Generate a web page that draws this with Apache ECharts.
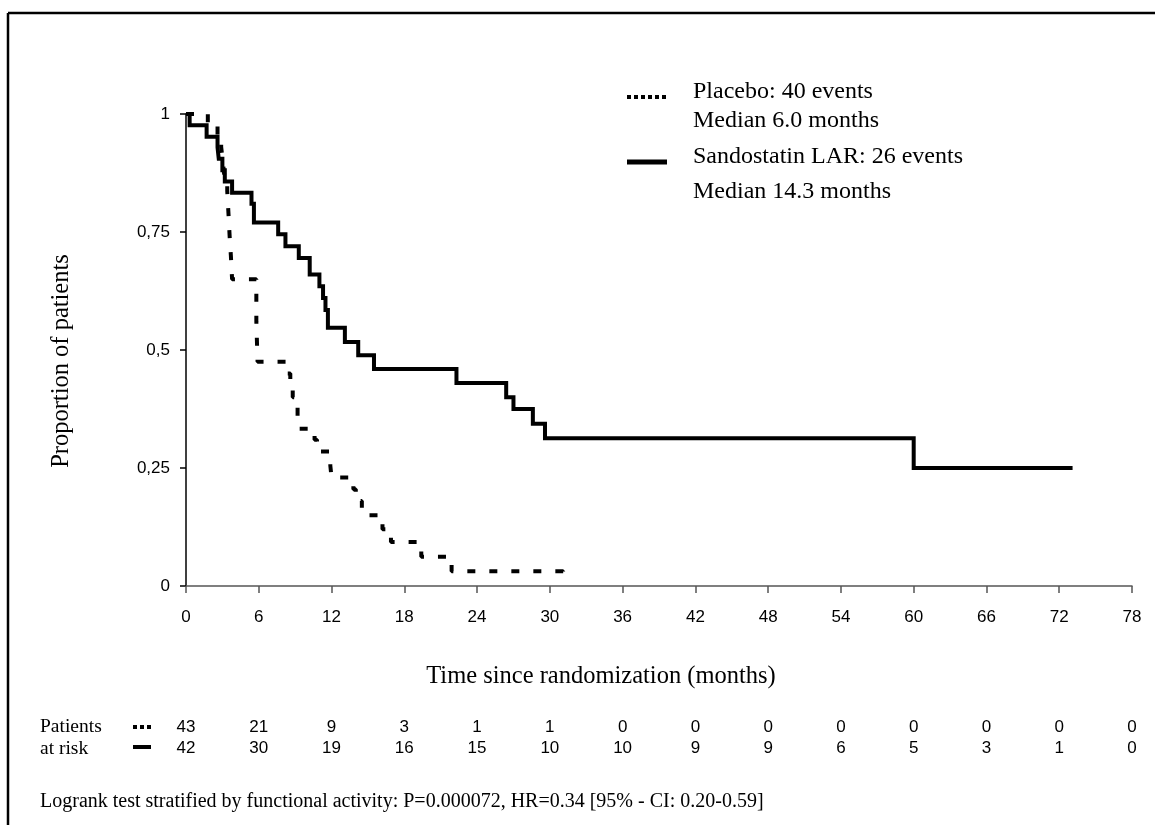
<!DOCTYPE html>
<html>
<head>
<meta charset="utf-8">
<script src="https://cdn.jsdelivr.net/npm/echarts@6/dist/echarts.min.js"></script>
<style>html,body{margin:0;padding:0;background:#fff;}#c{width:1155px;height:825px;}</style>
</head>
<body>
<div id="c"></div>
<script>
// ---- Data ----
const xTicks = [0, 6, 12, 18, 24, 30, 36, 42, 48, 54, 60, 66, 72, 78];
const yTicks = [0, 0.25, 0.5, 0.75, 1];
const yTickLabels = ['0', '0,25', '0,5', '0,75', '1'];

const placeboTime = [0, 1.8, 2.6, 2.9, 3.0, 3.1, 3.2, 3.4, 3.5, 3.6, 3.7, 3.8, 5.8, 5.9, 8.3, 8.6, 8.8, 9.0, 9.2, 9.3, 10.6, 10.8, 11.9, 12.0, 13.8, 14.0, 14.5, 14.6, 16.2, 16.9, 19.4, 21.9, 31.1];
const placeboSurv = [1, 0.977, 0.953, 0.93, 0.907, 0.884, 0.86, 0.837, 0.79, 0.74, 0.70, 0.65, 0.56, 0.475, 0.45, 0.43, 0.40, 0.38, 0.356, 0.333, 0.31, 0.285, 0.255, 0.23, 0.205, 0.18, 0.16, 0.15, 0.12, 0.093, 0.062, 0.031, 0.01];

const sandoTime = [0, 0.3, 1.7, 2.6, 2.7, 3.0, 3.2, 3.8, 5.4, 5.6, 7.6, 8.2, 9.3, 10.2, 11.0, 11.3, 11.5, 11.7, 13.1, 14.2, 15.5, 22.3, 26.4, 27.0, 28.6, 29.6, 60.0, 73.1];
const sandoSurv = [1, 0.976, 0.952, 0.929, 0.905, 0.881, 0.857, 0.833, 0.81, 0.77, 0.745, 0.72, 0.695, 0.66, 0.635, 0.61, 0.585, 0.547, 0.517, 0.489, 0.46, 0.43, 0.40, 0.375, 0.344, 0.313, 0.25, 0.25];

const riskPlacebo = [43, 21, 9, 3, 1, 1, 0, 0, 0, 0, 0, 0, 0, 0];
const riskSando = [42, 30, 19, 16, 15, 10, 10, 9, 9, 6, 5, 3, 1, 0];

const legendLines = [['Placebo: 40 events', 'Median 6.0 months'], ['Sandostatin LAR: 26 events', 'Median 14.3 months']];
const footnote = 'Logrank test stratified by functional activity: P=0.000072, HR=0.34 [95% - CI: 0.20-0.59]';

// ---- Chart ----
const serif = '"Liberation Serif", "Times New Roman", serif';
const sans = '"Liberation Sans", Arial, sans-serif';
const chart = echarts.init(document.getElementById('c'));

const pair = (t, s) => t.map((v, i) => [v, s[i]]);

chart.setOption({
  backgroundColor: '#fff',
  animation: false,
  grid: { left: 186, top: 114, right: 23, bottom: 239, containLabel: false },
  xAxis: [{
    type: 'value', min: 0, max: 78, interval: 6,
    name: 'Time since randomization (months)', nameLocation: 'middle', nameGap: 78,
    nameTextStyle: { fontFamily: serif, fontSize: 24.5, color: '#000', padding: [0, 116, 0, 0] },
    axisLine: { show: true, lineStyle: { color: '#555', width: 1.5 } },
    axisTick: { show: true, length: 7, lineStyle: { color: '#555', width: 1.5 } },
    axisLabel: { margin: 23, fontFamily: sans, fontSize: 17, color: '#000' },
    splitLine: { show: false }
  }, {
    type: 'value', min: 0, max: 78, interval: 6, position: 'bottom', gridIndex: 0,
    axisLine: { show: false }, axisTick: { show: false }, splitLine: { show: false },
    axisLabel: {
      margin: 131, fontFamily: sans, fontSize: 17, color: '#000', lineHeight: 21,
      formatter: v => { const i = xTicks.indexOf(v); return i < 0 ? '' : riskPlacebo[i] + '\n' + riskSando[i]; }
    }
  }],
  yAxis: {
    type: 'value', min: 0, max: 1, interval: 0.25,
    name: 'Proportion of patients', nameLocation: 'middle', nameGap: 112, nameRotate: 90,
    nameTextStyle: { fontFamily: serif, fontSize: 24.5, color: '#000', padding: [0, 22, 0, 0] },
    axisLine: { show: true, lineStyle: { color: '#000', width: 1.5 } },
    axisTick: { show: true, length: 6, lineStyle: { color: '#000', width: 1.5 } },
    axisLabel: { margin: 16, fontFamily: sans, fontSize: 17, color: '#000',
      formatter: v => { const i = yTicks.findIndex(t => Math.abs(t - v) < 1e-9); return i < 0 ? '' : yTickLabels[i]; } },
    splitLine: { show: false }
  },
  series: [{
    name: 'Placebo', type: 'line', step: 'end', symbol: 'none', xAxisIndex: 0,
    data: pair(placeboTime, placeboSurv),
    lineStyle: { color: '#000', width: 4, type: [8, 14], cap: 'butt' }
  }, {
    name: 'Sandostatin LAR', type: 'line', step: 'end', symbol: 'none', xAxisIndex: 0,
    data: pair(sandoTime, sandoSurv),
    lineStyle: { color: '#000', width: 4, type: 'solid', join: 'miter' }
  }],
  graphic: [
    // outer frame
    { type: 'line', shape: { x1: 8, y1: 13, x2: 1155, y2: 13 }, style: { stroke: '#000', lineWidth: 2.5 } },
    { type: 'line', shape: { x1: 8, y1: 13, x2: 8, y2: 825 }, style: { stroke: '#000', lineWidth: 2.5 } },
    // legend
    { type: 'line', shape: { x1: 627, y1: 97, x2: 667, y2: 97 }, style: { stroke: '#000', lineWidth: 4, lineDash: [4, 3] } },
    { type: 'line', shape: { x1: 627, y1: 162, x2: 667, y2: 162 }, style: { stroke: '#000', lineWidth: 5 } },
    { type: 'text', left: 693, top: 80, style: { text: legendLines[0][0], font: '24px ' + serif, fill: '#000' } },
    { type: 'text', left: 693, top: 109, style: { text: legendLines[0][1], font: '24px ' + serif, fill: '#000' } },
    { type: 'text', left: 693, top: 145, style: { text: legendLines[1][0], font: '24px ' + serif, fill: '#000' } },
    { type: 'text', left: 693, top: 180, style: { text: legendLines[1][1], font: '24px ' + serif, fill: '#000' } },
    // risk table row labels and markers
    { type: 'text', left: 40, top: 717, style: { text: 'Patients', font: '19.5px ' + serif, fill: '#000' } },
    { type: 'text', left: 40, top: 739, style: { text: 'at risk', font: '19.5px ' + serif, fill: '#000' } },
    { type: 'line', shape: { x1: 133, y1: 727, x2: 151, y2: 727 }, style: { stroke: '#000', lineWidth: 4, lineDash: [4, 3] } },
    { type: 'line', shape: { x1: 133, y1: 747, x2: 151, y2: 747 }, style: { stroke: '#000', lineWidth: 4 } },
    // footnote
    { type: 'text', left: 40, top: 792, style: { text: footnote, font: '20px ' + serif, fill: '#000' } }
  ]
});
</script>
</body>
</html>
